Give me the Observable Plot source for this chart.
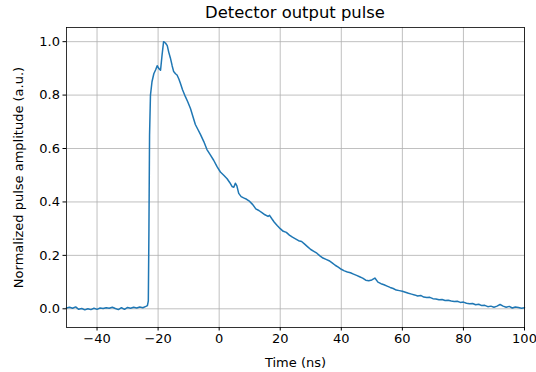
<!DOCTYPE html>
<html>
<head>
<meta charset="utf-8">
<script src="https://cdn.jsdelivr.net/npm/d3@7"></script>
<script src="https://cdn.jsdelivr.net/npm/@observablehq/plot@0.6"></script>
<style>
  html, body { margin: 0; padding: 0; background: #fff; }
  #wrap { position: relative; width: 536px; height: 372px; font-family: "DejaVu Sans", sans-serif; }
  #title { position: absolute; top: 4px; left: 66px; width: 458px; text-align: center; font-size: 16.4px; line-height: 18px; color: #000; }
  #chart { position: absolute; top: 22px; left: 0; }
</style>
</head>
<body>
<div id="wrap">
  <div id="title">Detector output pulse</div>
  <div id="chart"></div>
</div>
<script>
const titleText = "Detector output pulse";
const xLabel = "Time (ns)";
const yLabel = "Normalized pulse amplitude (a.u.)";
const xTicks = [-40, -20, 0, 20, 40, 60, 80, 100];
const yTicks = [0, 0.2, 0.4, 0.6, 0.8, 1.0];

const timeNs = [
  -50,-49,-48,-47,-46,-45,-44,-43,-42,-41,-40,-39,-38,-37,-36,-35,-34,-33,-32,-31,-30,-29,-28,-27,-26,-25,-24,
  -23.5,-23.2,-23.0,-22.8,-22.5,-22.0,-21.4,-20.8,-20.3,-19.8,-19.2,-18.7,-18.2,-17.6,-17.0,-16.5,-16.0,-15.4,-14.9,-14.3,-13.8,-13.2,-12.7,-12.0,
  -11.1,-10.3,-9.4,-8.6,-7.8,-7.0,-6.1,-5.0,-4.0,-3.0,-1.8,-0.7,0.4,1.5,2.6,3.5,4.2,4.8,5.3,5.8,6.4,7.2,8.0,9.0,10.0,
  11,12,13,14,15,16,16.5,17.2,18,19,20,21,22,23,24,25,26,27,28,29,30,31,32,33,34,35,36,37,38,39,40,
  41,42,43,44,45,46,47,48,49,50,51,52,53,54,55,56,57,58,59,60,61,62,63,64,65,66,67,68,69,70,
  71,72,73,74,75,76,77,78,79,80,81,82,83,84,85,86,87,88,89,90,91,92,93,94,95,96,97,98,99,100
];
const amplitude = [
  0.003,0.006,0.002,0.007,-0.002,0.001,-0.004,0.000,-0.003,0.002,-0.002,0.003,0.001,0.004,0.002,0.006,0.001,-0.003,0.004,-0.002,0.005,0.002,0.006,0.003,0.007,0.004,0.009,
  0.012,0.03,0.30,0.65,0.80,0.85,0.88,0.895,0.91,0.90,0.893,0.95,1.0,0.995,0.985,0.96,0.94,0.91,0.888,0.88,0.875,0.86,0.844,0.82,
  0.795,0.775,0.75,0.72,0.69,0.672,0.652,0.625,0.596,0.578,0.556,0.532,0.512,0.50,0.487,0.472,0.458,0.455,0.47,0.46,0.432,0.42,0.415,0.41,0.402,
  0.39,0.374,0.368,0.36,0.352,0.346,0.35,0.338,0.325,0.312,0.30,0.29,0.286,0.276,0.268,0.262,0.255,0.252,0.242,0.232,0.222,0.215,0.208,0.198,0.19,0.185,0.18,0.172,0.163,0.156,0.148,
  0.142,0.138,0.135,0.13,0.125,0.12,0.115,0.107,0.105,0.108,0.115,0.10,0.094,0.09,0.085,0.08,0.076,0.07,0.068,0.066,0.062,0.058,0.055,0.052,0.048,0.05,0.044,0.042,0.043,0.038,
  0.037,0.034,0.035,0.031,0.032,0.029,0.027,0.028,0.024,0.025,0.021,0.019,0.02,0.015,0.017,0.012,0.013,0.008,0.01,0.006,0.01,0.016,0.01,0.006,0.009,0.003,0.007,0.005,0.002,0.004
];

const data = timeNs.map((t, i) => ({t, v: amplitude[i]}));
const minus = d => (d < 0 ? "\u2212" + Math.abs(d) : String(d));

const chart = Plot.plot({
  width: 536,
  height: 350,
  marginTop: 5,
  marginLeft: 66,
  marginRight: 12,
  marginBottom: 45,
  style: {fontFamily: "DejaVu Sans, sans-serif", fontSize: "13px", color: "#000", background: "#fff"},
  x: {domain: [-50, 100]},
  y: {domain: [-0.07, 1.053]},
  marks: [
    Plot.gridX(xTicks, {stroke: "#b0b0b0", strokeOpacity: 1, strokeWidth: 0.8}),
    Plot.gridY(yTicks, {stroke: "#b0b0b0", strokeOpacity: 1, strokeWidth: 0.8}),
    Plot.line(data, {x: "t", y: "v", stroke: "#1f77b4", strokeWidth: 1.5}),
    Plot.frame({stroke: "#000", strokeWidth: 0.8}),
    Plot.axisX(xTicks, {tickFormat: minus, tickSize: 3.5, tickPadding: 3, label: xLabel, labelAnchor: "center", labelArrow: "none", labelOffset: 39, fontSize: 13}),
    Plot.axisY(yTicks, {tickFormat: d3.format(".1f"), tickSize: 3.5, tickPadding: 3, label: yLabel, labelAnchor: "center", labelArrow: "none", labelOffset: 53, fontSize: 13})
  ]
});
document.getElementById("chart").appendChild(chart);
document.getElementById("title").textContent = titleText;
</script>
</body>
</html>
